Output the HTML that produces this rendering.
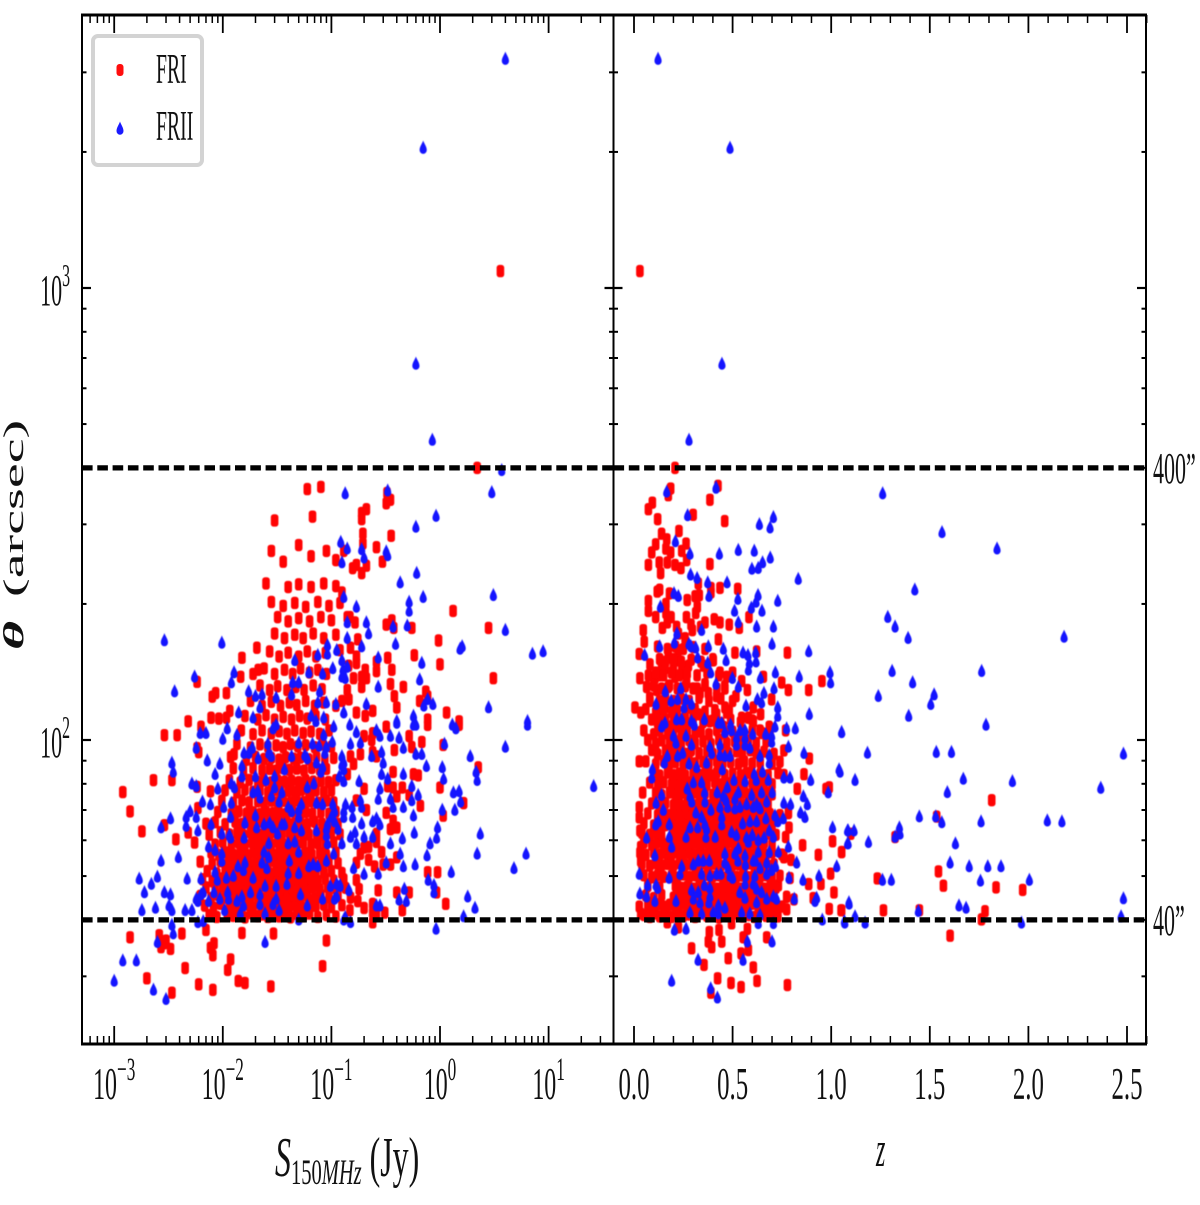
<!DOCTYPE html>
<html lang="en">
<head>
<meta charset="utf-8">
<title>Angular size versus flux and redshift for FRI and FRII sources</title>
<style>
html,body{margin:0;padding:0;background:#fff;width:1200px;height:1205px;overflow:hidden}
svg{display:block}
text{font-family:"Liberation Serif",serif;fill:#111}
</style>
</head>
<body>
<svg id="chart" xmlns="http://www.w3.org/2000/svg" width="1200" height="1205" viewBox="0 0 1200 1205">
<g id="marks" style="filter:blur(.4px)"></g>
<g id="guides"></g>
<g id="axes"></g>
<g id="labels"></g>

<text transform="translate(23,650) rotate(-90) scale(2,1)" font-size="28"><tspan font-weight="bold" font-style="italic">θ</tspan><tspan dx="5"> (arcsec)</tspan></text>
<text transform="translate(275,1176) scale(.57,1)" font-size="56"><tspan font-style="italic">S</tspan><tspan font-size="36" dy="8">150</tspan><tspan font-size="36" font-style="italic">MHz</tspan><tspan dy="-8"> (Jy)</tspan></text>
<text transform="translate(876,1166) scale(.48,1)" font-size="50" font-style="italic">z</text>
<text transform="translate(1153,483) scale(.5,1)" font-size="44">400”</text>
<text transform="translate(1153,935) scale(.5,1)" font-size="44">40”</text>

<g>
<rect x="93" y="36" width="109" height="129" rx="5" fill="#fff" stroke="#d3d3d3" stroke-width="4"/>
<rect x="116.5" y="64" width="7" height="12" rx="3" fill="#ff0d0d"/>
<path transform="translate(120,129)" d="M0,-7.5C.9,-4.5 3.5,-1.5 3.5,2A3.5,3.7 0 0 1 -3.5,2C-3.5,-1.5 -.9,-4.5 0,-7.5Z" fill="#1a1aff"/>
<text transform="translate(156,83) scale(.47,1)" font-size="42">FRI</text>
<text transform="translate(156,140) scale(.47,1)" font-size="42">FRII</text>
</g>
</svg>

<script>
// Left panel: flat pairs of flux S150MHz (Jy), angular size (arcsec)
const friFluxTheta = [
.0014,36.6,.002,29.7,.0026,37,.003,36,.0029,35.5,.0027,34.8,.0033,34.5,.0034,27.6,.0045,31.3,.006,28.8,.0081,28,.0111,31,.0118,32.7,.0077,34.7,.0083,35.5,.0081,33.4,.0042,37.3,.0139,29.3,.016,29,.0277,28.5,.09,36,.083,31.6,.0293,37.3,.015,37.4,.007,38,
.0012,76.7,.0014,69.5,.0018,62.8,.0023,81.5,.0029,102.5,.0038,102.5,.0048,110,.0034,81.5,.006,94,.0058,96,.0058,134.5,.0063,107,.0029,64.8,.0037,60.3,.0058,78.8,.0077,77,.0059,70.7,.007,65.3,.008,124.7,.0086,127,.0078,112,.0092,111.5,.0108,127,.0108,112,.0116,116,.015,152,.0146,138,.019,140,.0212,143,.0206,160,.0127,93,
3.6,1090,2.2,400,.21,324,.19,308,.195,286,.355,283,.195,272,.26,267,.13,262,.295,248,.21,243,.17,244,.157,240,.19,234,.32,334,.35,340,.325,352,.125,212,.148,187,.14,187,.165,182,.32,180,.36,184,.375,177,.55,177,1.32,193,2.8,177,.97,166,.175,167,.15,160,.58,154,1,147,.33,152,.36,143,.26,149,.26,142,.17,153,.17,148,.144,146,.205,143,.16,137,.19,138,.21,137,.19,131,.35,133,.46,131,3.1,137,.74,128,.77,125,.65,122,.38,125,.4,118,.24,116,.14,129,.125,122,.145,123,.17,115,.205,113,1.15,115,.77,111,1.5,110,.12,158,
.77,108,1.5,108,.32,107,.24,103.5,.52,102,.2,102,.235,100,.68,99,1.07,97.5,.38,95,.55,96.5,.185,93,.26,92,.24,94,.15,92,.16,88.5,.14,84,2.25,87,.37,85,.57,84,.63,83.5,.33,79,.37,78.5,.45,78.5,1,78.5,.2,78,.4,75,.52,75.5,.17,73.5,.66,71.5,1.65,72.5,.21,70,.32,69,1.07,68,.37,66.3,.37,64,.35,63.5,.4,64,.26,62,.26,59.5,.22,58,.2,57.8,.185,56,.29,56.5,.4,55,.22,54.3,.25,52.5,.17,53.5,.35,53,.3,53,.77,51,.95,51,.17,49,.18,46.8,.27,46.5,.4,46,.52,46,.93,46,1.13,43.4,.45,42,.175,44,.2,42.5,.148,42,.24,43.4,.24,41.5,.31,41.5,.26,41,.24,39.5,
.03,306,.06,359,.08,363,.067,312,.19,318,.028,262,.036,248,.05,270,.065,255,.09,262,.11,250,
.0075,41,.0088,40.6,.011,41.3,.0125,40.8,.014,41.2,.016,40.5,.018,41.4,.021,40.8,.023,41.1,.026,40.6,.029,41.3,.033,40.7,.037,41,.042,40.5,.048,41.2,.055,40.8,.063,41.3,.075,40.6,.09,41,.11,40.7,
.0068,43,.0082,42.6,.0095,43.4,.0115,42.8,.013,43.3,.015,42.7,.017,43.2,.019,42.6,.022,43.4,.025,42.9,.028,43.2,.032,42.7,.036,43.3,.041,42.8,.047,43.1,.054,42.6,.062,43.4,.072,42.9,.085,43.2,.1,42.7,.125,43.1,
.0062,45.2,.0078,44.7,.009,45.4,.0105,44.8,.012,45.3,.0138,44.9,.016,45.5,.018,44.7,.021,45.1,.024,44.6,.027,45.4,.03,44.9,.035,45.2,.039,44.7,.045,45.3,.052,44.8,.06,45.2,.07,44.6,.08,45.4,.095,44.9,.115,45.2,.15,44.8,
.007,47.2,.0085,46.8,.01,47.4,.0115,46.9,.013,47.3,.015,46.7,.0175,47.2,.02,46.8,.023,47.5,.026,46.9,.03,47.3,.034,46.7,.038,47.1,.044,46.8,.05,47.4,.058,46.9,.067,47.2,.078,46.7,.092,47.3,.11,46.9,.135,47.1,
.0065,49.2,.008,48.7,.0095,49.4,.011,48.9,.0125,49.3,.0145,48.8,.0165,49.1,.019,48.7,.022,49.5,.025,49,.028,49.3,.032,48.8,.037,49.2,.042,48.7,.048,49.4,.056,48.9,.065,49.2,.075,48.8,.088,49.3,.105,48.9,.13,49.2,
.0072,51.3,.0088,50.7,.0105,51.5,.012,50.9,.014,51.2,.016,50.8,.0185,51.4,.021,50.9,.024,51.2,.027,50.7,.031,51.5,.035,51,.04,51.3,.046,50.8,.053,51.2,.062,50.7,.072,51.4,.085,50.9,.1,51.3,.125,50.8,
.0062,53.8,.008,53.2,.0095,53.9,.0112,53.3,.013,53.7,.015,53.1,.0172,53.8,.02,53.3,.023,53.6,.026,53.1,.03,53.9,.034,53.4,.039,53.7,.044,53.2,.05,53.8,.058,53.3,.068,53.6,.08,53.1,.095,53.8,.115,53.4,
.0078,56.3,.0092,55.7,.0108,56.4,.0125,55.8,.0145,56.2,.0168,55.6,.019,56.4,.022,55.9,.025,56.2,.029,55.7,.033,56.5,.038,55.9,.043,56.2,.049,55.7,.057,56.3,.066,55.8,.078,56.1,.09,55.7,.11,56.4,
.0055,59.3,.0085,58.7,.01,59.4,.012,58.8,.014,59.2,.016,58.6,.0185,59.4,.021,58.9,.024,59.2,.028,58.7,.032,59.5,.036,58.9,.042,59.2,.048,58.7,.055,59.3,.065,58.8,.075,59.1,.088,58.7,.105,59.4,
.0048,62.4,.0075,61.7,.0095,62.5,.0115,61.8,.0135,62.2,.0155,61.6,.018,62.4,.021,61.9,.024,62.2,.027,61.7,.031,62.5,.035,61.9,.041,62.2,.046,61.7,.053,62.3,.062,61.8,.073,62.1,.085,61.7,.1,62.4,.12,61.9,
.0085,65.8,.0105,65.1,.013,65.9,.015,65.2,.0175,65.7,.02,65.1,.023,65.9,.026,65.3,.03,65.6,.034,65.1,.039,65.8,.045,65.3,.052,65.7,.06,65.1,.07,65.9,.082,65.3,.097,65.6,.115,65.2,
.009,69.3,.012,68.6,.014,69.5,.0165,68.8,.019,69.2,.022,68.6,.025,69.4,.029,68.9,.033,69.2,.038,68.6,.044,69.5,.05,68.8,.058,69.3,.067,68.7,.08,69.2,.095,68.7,.11,69.4,
.0098,73.4,.0125,72.6,.015,73.5,.0175,72.8,.021,73.2,.024,72.6,.028,73.4,.032,72.8,.036,73.3,.042,72.7,.048,73.5,.056,72.9,.065,73.2,.076,72.6,.09,73.4,.105,72.8,
.0105,77.4,.0135,76.6,.016,77.6,.019,76.8,.022,77.3,.026,76.6,.03,77.5,.034,76.9,.04,77.2,.046,76.7,.053,77.5,.062,76.9,.072,77.3,.085,76.7,.1,77.4,
.0115,81.5,.0145,80.6,.0175,81.6,.021,80.8,.024,81.3,.028,80.6,.032,81.5,.037,80.9,.043,81.3,.05,80.7,.058,81.6,.068,80.9,.08,81.2,.094,80.7,.11,81.5,
.0125,86.6,.0155,85.5,.019,86.7,.023,85.8,.027,86.3,.031,85.6,.036,86.6,.041,85.9,.048,86.4,.056,85.6,.066,86.7,.078,85.9,.09,86.3,
.0118,91.7,.0165,90.4,.02,91.8,.024,90.8,.028,91.3,.033,90.5,.038,91.6,.045,90.9,.052,91.4,.062,90.6,.073,91.7,.087,90.8,.105,91.3,
.0135,98,.018,96.3,.022,97.8,.026,96.6,.031,97.3,.036,96.4,.042,97.9,.049,96.8,.058,97.4,.07,96.4,.083,97.8,.1,96.7,
.0148,105,.019,103,.023,105,.028,103.4,.033,104.5,.039,103.2,.046,105,.055,103.6,.065,104.4,.078,103.2,.095,105,
.016,113,.021,111,.025,113.5,.03,111,.036,112.5,.043,111,.051,113,.06,111.5,.072,113,.088,111,
.018,122,.023,119,.028,121.5,.034,119,.041,121,.048,119.5,.058,122,.07,119,.085,121,.11,119,
.022,132,.027,129,.032,131.5,.039,129,.047,131,.056,129,.068,132,.082,129.5,
.024,144,.03,140,.037,143,.044,140,.052,144,.063,141,.075,143,.09,140,
.027,157,.033,153,.04,156,.05,153,.06,157,.072,153,.088,156,
.03,172,.037,168,.046,171,.055,168,.068,172,.085,168,.11,171,
.032,187,.04,183,.05,186,.063,183,.08,187,.1,184,
.028,202,.036,198,.046,201,.058,197,.075,202,.095,198,.12,201,
.025,222,.04,218,.05,221,.065,218,.085,222,.11,219
];
const friiFluxTheta = [
4,3210,.7,2040,.6,679,.85,461,3.7,395,.134,351,.33,356,3,353,.92,313,.6,296,.122,274,.14,265,.19,264,.2,253,.32,261,.33,256,.125,247,.61,234,.43,223,3.1,209,.52,202,.7,207,.52,193,.13,207,.17,197,.14,182,.21,182,.22,172,.37,178,.5,179,4,175,.14,168,.19,161,.39,163,1.6,161,1.53,159,7.1,155,8.9,157,.27,152,.68,148,.65,136,.27,131,.21,120,.77,123,.71,119,.86,120,2.8,118,.57,113,.128,143,.125,138,.134,137,.13,115,.4,110,6.4,110,
6.4,108,1.3,108,1.4,106,.4,109,.57,108,.6,108,.148,108,.17,104,.26,105,.28,102,.35,102,.42,101,.15,98,.185,98.5,.46,96,.6,93,.68,93,1.1,98,4,96.5,1.9,92,.75,87.5,1.05,87,.29,94,.235,92,.3,89,.13,89,.13,86,.29,84,.33,82,.46,84,.18,81,.13,81,2.15,85,2.2,81.5,1.08,82,26,79,.55,79,.28,78,1.33,76.5,.63,75.5,1.5,77,1.55,73,.27,74,.35,74,.185,73.5,.55,73.5,.46,71,.37,71,.135,72,.155,71,.19,71,1.05,70,1.37,70,.57,68,.157,67.5,.13,67.5,.24,66,.26,67,.28,65,.19,65.3,.95,64,.58,62.3,2.35,62,.165,62.5,.15,61,.2,61,.24,61,.45,60.5,.93,60.7,.81,59,.125,59,.17,59,.35,59,.43,56,6.2,56,2.2,56,.76,55.5,.32,53.5,.59,53,.46,52.5,4.8,52,1.27,51,.16,52,.2,50.5,.27,50.5,.78,49,.88,47.7,.12,47.7,.145,46.5,.47,46.8,.88,46,1.8,45,.42,44.3,.49,44,2.1,42.5,.26,43,.28,43,1.65,40.7,.13,40,.15,39.5,.92,38.2,
.0055,138,.0036,128,.0098,164,.0029,166,.0127,141,.012,134,.0173,128,.02,125,.023,126,.031,124,.043,126,.044,134,.05,134,.046,150,.062,141,.083,140,.103,144,.092,162,.092,155,.112,158,.075,154,.13,140,.14,145,.125,150,.078,128,.075,121,.09,121,.11,120,.022,118,.014,115,.019,112,.065,113,.072,110,.085,112,.13,115,.105,107,.011,106,.0062,103.5,.007,103.5,.01,100.5,.0135,102.5,.029,106,.031,108,.05,98.5,.067,98,.077,97,.085,102.5,.09,96.5,.087,93.5,.102,99,.0057,96,.0034,89,.0035,85,.0072,90,.0094,88.5,.015,87.5,.0157,93.5,.0174,93.5,.0187,96,.0212,91,.026,98,.0265,93.5,.028,92,.043,92,.057,92.5,.06,91,.073,89,.083,87,.08,85,.125,92,.125,88,.128,89,.0052,80,.0057,79,.0085,84,.0128,78.5,.012,80,.015,83,.02,83,.025,81.5,.03,83,.037,86,.06,78.5,.069,80,.118,83,.03,78.5,.009,78,.0065,73,.0077,72,.0102,71,.012,72.5,.019,76.5,.021,77,.022,74.5,.028,75,.033,73,.035,76.5,.04,71,.043,69.5,.05,70,.05,67.5,.053,72,.073,72.5,.083,72,.103,72,.107,69.5,.13,69.5,.005,69.5,.0033,67,.0046,67.5,.0046,64.5,.0057,67.5,.0059,63,.0078,65,.0027,64,.0118,67.5,.016,65.5,.02,68,.024,65,.027,65.5,.029,64,.035,65,.037,65,.046,64,.053,63,.073,63,.092,65,.09,63.5,.1,67.5,.115,63.5,.107,66,.0098,62,.0115,61.5,.032,62,.0205,64,
.0017,49.3,.0022,48,.0025,49.8,.0019,46,.0029,46,.0033,45.5,.0018,42,.0024,42.5,.0032,43,.0034,42,.0027,54,.0039,55,.0045,42,.0052,42,.0034,39,.0035,37.3,.0025,35.7,.0012,32.5,.0016,32.5,.001,29.3,.0023,28,.003,26.7,.0245,35.7,.0059,39.5,.0066,39.7,.0059,44,.0057,44.5,.0066,46,.0063,45.5,.0074,44,.0085,51,.0063,49.3,.0047,49.3,.0083,46,.0094,44.5,.0089,49,.0108,49.5,.0098,56,.0098,54,.0085,57,.0074,58,.0118,60.7,.0157,60.7,.0104,42,.0111,46,.0113,44.5,.0125,50,.0138,52.5,.016,53.5,.0155,51.5,.0135,44,.015,45,.0155,43,.018,46,.0145,41.3,.019,49.5,.023,53.5,.0255,52,.024,56.5,.0265,55,.0265,59,.0245,47.5,.022,45.5,.022,43.3,.0245,41.3,.029,43.3,.031,47.5,.031,44.5,.033,42,.039,48,.04,50.7,.041,54,.04,59,.05,56.5,.05,50.7,.052,45.5,.046,59.5,.062,52.5,.068,53,.075,52.5,.06,43,.083,44.5,.092,59,.09,61.5,.09,54,.105,56,.125,59,.098,47.5,.112,48,.12,47.5,.145,46.5,.107,44.5,.112,45,.05,40,.134,40.5
];
// Right panel: flat pairs of redshift z, angular size (arcsec)
const friRedshiftTheta = [
.03,1090,.208,400,.186,360,.174,348,.093,335,.073,324,.12,308,.228,290,.14,286,.166,278,.11,271,.09,260,.162,265,.186,260,.242,262,.264,272,.267,250,.169,247,.208,244,.238,240,.128,247,.073,244,.135,234,.326,222,.39,217,.39,212,.436,217,.526,216,.385,245,.3,315,.46,305,.426,365,.385,340,.13,215,.118,213,.18,211,.27,204,.31,208,.331,209,.073,203,.073,193,.162,200,.162,191,.321,197,.313,191,.11,187,.188,187,.169,182,.144,177,.266,187,.289,180,.296,175,.36,182,.338,178,.407,185,.436,182,.483,180,.534,177,.583,187,.047,175,.052,165,.027,155,.081,147,.073,139,.03,137,.064,131,.005,118,.035,115,.081,122,.106,137,.128,139,.14,147,.174,158,.174,152,.225,172,.216,178,.225,158,.225,150,.259,168,.259,141,.428,167,.512,156,.622,157,.778,156,.953,135,.783,129,.886,129,.749,134,.698,123,.656,138,.605,118,.642,114,.58,112,.546,112,.605,110,.575,129,.546,135,.517,125,.5,141,.47,138,.436,141,.461,130,.419,125,.461,118,.483,116,.419,114,.377,127,.402,150,.36,133,.352,146,.335,127,.32,130,.267,134,.276,146,.242,146,.2,146,.157,144,.208,138,.174,131,.115,129,.157,118,.123,116,.123,111,.233,107,.174,107,.3,114,.326,114,.284,118,.384,110,.453,107,.686,107,.769,105,.639,105,.69,102,
.225,38.5,.382,37.6,.431,38,.377,35.8,.394,34.8,.445,35.8,.292,34.6,.554,36.6,.575,38.2,.58,34.3,.543,33.7,.673,36.6,.478,32.9,.355,31.8,.605,31.4,.424,29.7,.492,29,.543,28.4,.624,29.3,.778,28.7,.39,27.6,.495,39.3,.169,39.5,
.889,91,.862,84,.828,78,.99,78.6,.974,78,.783,68.9,.786,64,.769,61,.855,58.5,.935,55.7,1.007,59.7,1.053,56.5,.997,50.6,.886,48,.948,48,1.014,46,.909,44.7,.99,42.3,1.053,42,.811,44.4,.796,54.3,.76,55,.791,49.5,.732,47.7,.774,42.2,.774,45,.044,76.5,.027,89.7,.027,71,.027,67.4,.03,63,.034,58,.034,54,.027,42.8,.034,41.3,
1.814,73.6,1.535,67.7,1.099,62,1.324,61,1.053,56.5,1.234,49.4,1.544,51.2,1.569,47.6,1.836,47.2,1.971,46.6,1.05,42,1.265,42,1.447,42,1.78,41.8,1.762,40.1,1.603,36.9,
.05,41,.08,40.6,.1,41.3,.13,40.7,.16,41.2,.19,40.6,.22,41.4,.25,40.8,.28,41.1,.31,40.6,.34,41.3,.37,40.8,.4,41,.43,40.5,.46,41.2,.49,40.8,.52,41.3,.55,40.7,.58,41,.61,40.6,.64,41.3,.67,40.8,.7,41.1,.73,40.7,
.07,43.2,.09,42.7,.12,43.3,.15,42.8,.18,43.2,.21,42.6,.24,43.4,.27,42.8,.3,43.1,.33,42.7,.36,43.3,.39,42.9,.42,43.2,.45,42.6,.48,43.3,.51,42.8,.54,43.1,.57,42.7,.6,43.4,.63,42.8,.66,43.2,.69,42.7,.72,43.1,.75,42.8,
.06,45.3,.1,44.7,.14,45.4,.2,44.8,.23,45.2,.26,44.7,.29,45.4,.32,44.9,.35,45.2,.38,44.7,.41,45.3,.44,44.8,.47,45.1,.5,44.7,.53,45.4,.56,44.9,.59,45.2,.62,44.7,.65,45.3,.68,44.8,.71,45.1,
.07,47.5,.13,47.2,.21,47.6,.24,47.1,.27,47.4,.3,46.9,.33,47.6,.36,47.1,.39,47.4,.42,46.9,.45,47.5,.48,47.1,.51,47.3,.54,46.9,.57,47.6,.6,47.1,.63,47.4,.66,46.9,.69,47.5,.72,47.1,
.05,50.2,.09,49.7,.12,50.3,.15,49.8,.19,50.1,.22,49.6,.25,50.4,.28,49.8,.31,50.2,.34,49.7,.37,50.3,.4,49.9,.43,50.2,.46,49.6,.49,50.3,.52,49.8,.55,50.1,.58,49.7,.61,50.4,.64,49.8,.67,50.2,.7,49.7,.74,50.1,
.04,53.2,.08,52.7,.11,53.4,.14,52.8,.17,53.2,.2,52.6,.23,53.4,.26,52.9,.29,53.1,.32,52.7,.35,53.3,.38,52.8,.41,53.2,.44,52.6,.47,53.4,.5,52.9,.53,53.1,.56,52.7,.59,53.3,.62,52.8,.65,53.2,.68,52.7,.71,53.1,
.03,56.3,.06,55.7,.1,56.4,.13,55.8,.16,56.2,.19,55.6,.22,56.4,.25,55.9,.28,56.2,.31,55.7,.34,56.3,.37,55.8,.4,56.1,.43,55.7,.46,56.4,.49,55.8,.52,56.2,.55,55.7,.58,56.3,.61,55.8,.64,56.1,.67,55.7,.7,56.4,.75,55.8,
.05,59.3,.09,58.7,.12,59.4,.15,58.8,.18,59.2,.21,58.6,.24,59.4,.27,58.9,.3,59.2,.33,58.7,.36,59.3,.39,58.8,.42,59.2,.45,58.6,.48,59.4,.51,58.9,.54,59.1,.57,58.7,.6,59.3,.63,58.8,.66,59.2,.7,58.7,
.04,62.3,.08,61.7,.11,62.4,.14,61.8,.2,62.2,.23,61.6,.26,62.4,.29,61.9,.32,62.2,.35,61.7,.38,62.3,.41,61.8,.44,62.1,.47,61.6,.5,62.4,.53,61.9,.56,62.2,.59,61.7,.62,62.3,.65,61.8,.68,62.1,.72,61.7,
.05,65.4,.1,64.7,.13,65.5,.16,64.8,.19,65.2,.22,64.6,.25,65.4,.28,64.9,.31,65.2,.34,64.7,.37,65.4,.4,64.8,.43,65.1,.46,64.6,.49,65.5,.52,64.9,.55,65.2,.58,64.7,.61,65.3,.64,64.8,.67,65.1,.7,64.7,
.07,68.8,.12,68.2,.15,68.9,.18,68.2,.21,68.6,.24,68.1,.27,68.9,.3,68.3,.33,68.7,.36,68.1,.39,68.9,.42,68.3,.45,68.6,.48,68.1,.51,68.9,.54,68.3,.57,68.6,.6,68.1,.63,68.8,.66,68.3,.69,68.6,.74,68.2,
.09,72.4,.13,71.6,.16,72.5,.2,71.8,.23,72.2,.26,71.6,.29,72.4,.32,71.8,.35,72.3,.38,71.7,.41,72.5,.44,71.9,.47,72.2,.5,71.6,.53,72.4,.56,71.8,.59,72.2,.62,71.7,.65,72.5,.68,71.8,
.11,76.4,.14,75.6,.18,76.5,.21,75.8,.24,76.3,.27,75.6,.3,76.5,.33,75.9,.36,76.2,.4,75.7,.43,76.5,.46,75.9,.49,76.2,.52,75.6,.55,76.4,.58,75.8,.61,76.2,.64,75.7,.67,76.5,.7,75.8,
.08,80.5,.12,79.6,.15,80.6,.19,79.8,.22,80.3,.25,79.6,.28,80.5,.31,79.9,.34,80.2,.37,79.7,.41,80.5,.44,79.8,.47,80.3,.5,79.6,.53,80.5,.56,79.9,.6,80.2,.63,79.7,.66,80.5,.7,79.8,
.1,84.6,.13,83.5,.17,84.7,.2,83.7,.23,84.3,.26,83.5,.3,84.6,.33,83.8,.36,84.3,.39,83.6,.42,84.7,.46,83.8,.5,84.2,.54,83.6,.57,84.6,.6,83.8,.64,84.3,.68,83.6,.73,84.5,.76,83.7,
.06,89.7,.11,88.4,.15,89.8,.18,88.6,.21,89.3,.25,88.5,.28,89.7,.31,88.8,.35,89.4,.38,88.5,.42,89.7,.45,88.8,.49,89.3,.53,88.5,.56,89.7,.6,88.8,.64,89.2,.7,88.6,.74,89.5,
.09,95,.12,93,.16,94.8,.19,93.3,.22,94.5,.26,93.2,.29,94.8,.33,93.5,.37,94.4,.4,93.2,.44,95,.48,93.6,.52,94.4,.55,93.2,.59,94.9,.62,93.6,.66,94.3,.71,93.2,.76,94.8,
.07,100,.11,98,.14,99.8,.18,98.2,.21,99.4,.24,98,.28,99.8,.31,98.4,.35,99.3,.39,98,.43,100,.47,98.5,.51,99.3,.54,98,.58,99.8,.62,98.5,.67,99.3,
.05,105,.1,103,.13,105,.17,103.3,.2,104.4,.24,103,.27,105,.31,103.5,.34,104.3,.38,103,.42,105,.46,103.5,.5,104.4,.55,103,.6,105,.65,103.6,
.09,111,.12,109,.16,111,.2,109.4,.23,110.6,.27,109,.3,111,.35,109.5,.4,110.5,.44,109,.49,111,.54,109.5,.6,110.5,
.06,117,.11,115,.15,117,.19,115.3,.22,116.5,.26,115,.31,117,.36,115.5,.41,116.5,.47,115,
.08,124,.13,122,.16,124,.2,122,.24,123.5,.28,122,.33,124,.38,122,.44,123.5,.5,122,
.1,132,.14,130,.18,132,.22,130,.26,131.5,.3,130,.36,132,.42,130,.46,131.5,
.11,141,.15,139,.19,141,.23,139,.27,140.5,.32,139,.37,141,.43,139,
.13,151,.16,149,.2,151,.24,149,.29,150.5,.34,149,.4,151,
.12,161,.17,159,.21,161,.25,159,.3,160.5,.36,159
];
const friiRedshiftTheta = [
.122,3210,.487,2040,.446,679,.279,461,.416,361,
1.121,81.5,1.045,85,1.67,82,1.919,81,1.589,76.6,2.367,78.3,1.447,67.7,1.53,67.7,1.561,65.7,1.76,66,2.096,66.3,2.17,66,1.346,64,1.349,62,1.324,61,1.086,63,1.116,63,1.086,59,1.189,59.4,1.63,59,1.603,53.5,1.7,52.5,1.794,52.5,1.861,52.5,1.26,49,1.305,49,1.757,48.8,2.005,49,2.482,44.6,1.091,43.4,1.648,43,1.684,42.5,1.442,41.8,1.121,40.7,2.47,40.7,1.069,39.4,1.172,39.4,1.965,39.4,
1.261,351,1.562,288,1.841,265,1.424,215,1.287,187,1.324,178,1.39,168,2.181,169,1.309,142,1.763,142,1.413,134,1.239,125,1.522,126,1.505,120,1.393,113,1.785,108,1.053,104,1.184,93.6,1.533,94,1.61,94,2.482,93.2,
.166,354,.416,362,.272,314,.707,311,.636,300,.69,295,.21,275,.284,258,.433,258,.529,263,.61,262,.691,253,.652,247,.598,239,.63,240,.287,232,.32,228,.374,223,.472,223,.833,227,.203,211,.225,208,.38,208,.527,205,.629,209,.729,203,.619,202,.134,197,.595,196,.51,193,.649,193,.529,182,.622,178,.707,178,.218,172,.343,175,.13,161,.205,164,.279,163,.289,161,.313,160,.377,161,.7,163,.054,154,.323,152,.453,159,.467,150,.553,156,.578,154,.617,156,.886,157,.585,148,.619,149,.58,143,.374,148,.389,141,.717,141,.838,138,.994,141,.997,134,.499,137,.641,137,.416,133,.529,131,.659,127,.71,130,.237,130,.159,128,.626,123,.647,121,.112,120,.188,122,.221,123,.264,123,.292,120,.254,118,.568,119,.729,118,.729,113,.889,114,.216,111,.242,111,.357,111,.292,110,.157,109,.14,107,.306,108,.428,109,.445,109,.49,108,.461,104,.495,105,.538,105,.563,105,.602,103,.668,103,.698,102,.715,107,.774,106,.818,106,1.053,104,.264,102,.2,102,.563,101,.52,101,
.213,98.5,.292,97.5,.385,96.5,.436,97.5,.52,97.5,.563,97.5,.588,96,.698,99,.783,96.5,.862,93.5,1.04,86,.154,89,.169,92,.221,92,.247,93.5,.279,88.5,.318,87,.368,89,.394,93.5,.436,92.5,.461,92,.487,92,.639,92,.686,92.5,.686,89,.448,86,.652,85,.61,84,.093,86,.09,82.5,.76,82.5,.791,82.5,.896,81.5,.507,81.5,.563,81,.681,81.5,.62,81.5,.301,80.5,.343,80.5,.27,78,.284,75,.358,76.5,.422,76.5,.473,78.5,.453,75,.529,76.5,.597,75.5,.647,76.5,.701,76.5,.985,76.5,.14,75.5,.112,72.5,.293,73,.36,73,.467,73.5,.512,74,.537,71,.571,72,.622,72,.673,73,.859,75,.879,72,.794,72,.76,72.5,.436,71,.475,71,.512,70.5,.605,71,.639,70.5,.39,70,.314,69,.149,70,.845,69,.867,67.5,.123,66,.11,65,.179,65,.343,67.5,.445,67.5,.445,65,.669,67,.715,68,.729,66,.757,67,.588,66,.622,66,.551,65.3,.36,65,.368,63.5,.284,64,.323,64,1.007,64,1.083,63,.495,62.5,.52,61.5,.179,61,.191,58,.264,61,.365,61,.412,61,.064,60.7,.571,60.7,.58,59.5,.6,61.5,.63,60,.66,60.7,.707,61,.686,63,.783,58,1.083,59,.461,56,.512,56,.529,57.5,.563,55.5,.63,56.5,.605,54,.686,56.5,.732,56.5,.106,55.5,.326,54,.301,53,.351,54,.382,54,.461,53.5,.527,54,.565,53,.616,54,.639,52,.673,53.5,.825,53.5,1.028,52.5,.242,52.5,.233,50.5,.478,52,.487,50,.718,52.5,.698,51.5,.027,50.5,.178,49.5,.343,50.5,.419,50.5,.441,50.5,.385,50,.5,49.5,.566,50,.563,48,.613,50,.673,50.5,.786,49.5,.857,49,.938,50,.069,47.7,.03,45.7,.064,45,.112,47.7,.12,47,.357,47.7,.385,47,.292,46.5,.326,46,.301,44.5,.385,45,.537,46,.563,44.7,.605,48,.622,46.8,.647,46,.673,44.5,.707,45,.723,44.5,.813,44.5,.106,44,.213,44,.918,44,.926,44.7,.335,43.7,.38,43.7,.428,43,.461,42.5,.622,43.7,.546,41.5,.284,41.5,.343,41.3,.402,41.5,.428,41.3,.588,41.3,.639,41,1.09,43.7,.955,40,1.067,39.7,.707,39.3,.63,39.3,.205,38,.264,38.2,.575,35.8,.7,35.8,.325,32.6,.553,32.6,.191,29.3,.389,28.2,.423,26.9
];
// Tick values and printed labels
const decadeFluxExponents = [-3,-2,-1,0,1];
const minorFluxTicks = [6e-4,7e-4,8e-4,9e-4,2e-3,3e-3,4e-3,5e-3,6e-3,7e-3,8e-3,9e-3,.02,.03,.04,.05,.06,.07,.08,.09,.2,.3,.4,.5,.6,.7,.8,.9,2,3,4,5,6,7,8,9,20,30];
const majorThetaExponents = [2,3];
const minorThetaTicks = [30,40,50,60,70,80,90,200,300,400,500,600,700,800,900,2000,3000];
const redshiftMajor = ['0.0','0.5','1.0','1.5','2.0','2.5'];
const redshiftMinor = [.1,.2,.3,.4,.6,.7,.8,.9,1.1,1.2,1.3,1.4,1.6,1.7,1.8,1.9,2.1,2.2,2.3,2.4,2.6];
const guideThetas = [40,400];

// Axis functions
const NS = 'http://www.w3.org/2000/svg';
const PANEL = {left:82, mid:613.5, right:1146, top:15, bottom:1044};
function xFlux(s){ return 114.2 + 108.6*(Math.log10(s)+3); }
function xRedshift(z){ return 634 + 197.2*z; }
function yTheta(t){ return 740 + 452*(2-Math.log10(t)); }

const marks = document.getElementById('marks');
const axes = document.getElementById('axes');
const guides = document.getElementById('guides');
const labels = document.getElementById('labels');

function drawFri(data, xFn){
  for(let i=0;i+1<data.length;i+=2){
    const el = document.createElementNS(NS,'rect');
    
    
    el.setAttribute('x', xFn(data[i])-3.8);
    el.setAttribute('y', yTheta(data[i+1])-6.2);
    el.setAttribute('width', 7.6);
    el.setAttribute('height', 12.4);
    el.setAttribute('rx', 2.8);
    el.setAttribute('fill', '#ff0303');
    marks.appendChild(el);
  }
}
function drawFrii(data, xFn){
  for(let i=0;i+1<data.length;i+=2){
    const el = document.createElementNS(NS,'path');
    
    
    el.setAttribute('transform', 'translate('+xFn(data[i])+','+yTheta(data[i+1])+')');
    el.setAttribute('d', 'M0,-7.5C.9,-4.5 3.6,-1.5 3.6,2A3.6,3.8 0 0 1 -3.6,2C-3.6,-1.5 -.9,-4.5 0,-7.5Z');
    el.setAttribute('fill', '#1414ff');
    marks.appendChild(el);
  }
}
drawFri(friFluxTheta, xFlux);
drawFri(friRedshiftTheta, xRedshift);
drawFrii(friiFluxTheta, xFlux);
drawFrii(friiRedshiftTheta, xRedshift);

function line(parent,x1,y1,x2,y2,w,name){
  const el = document.createElementNS(NS,'line');
  
  
  el.setAttribute('x1', x1); el.setAttribute('y1', y1);
  el.setAttribute('x2', x2); el.setAttribute('y2', y2);
  el.setAttribute('stroke', '#000');
  el.setAttribute('stroke-width', w);
  parent.appendChild(el);
  return el;
}
// Guides
guideThetas.forEach(function(t){
  [[PANEL.left,PANEL.mid],[PANEL.mid,PANEL.right]].forEach(function(r){
    const g = line(guides,r[0],yTheta(t),r[1],yTheta(t),5.2,'size-limit-line');
    g.setAttribute('stroke-dasharray','10.6 4.7');
  });
});
// Frame
line(axes,PANEL.left-1,PANEL.top,PANEL.right+1,PANEL.top,3,'top-spine');
line(axes,PANEL.left-1,PANEL.bottom,PANEL.right+1,PANEL.bottom,3,'bottom-spine');
line(axes,PANEL.left,PANEL.top,PANEL.left,PANEL.bottom,2,'left-spine');
line(axes,PANEL.mid,PANEL.top,PANEL.mid,PANEL.bottom,2,'middle-spine');
line(axes,PANEL.right,PANEL.top,PANEL.right,PANEL.bottom,2,'right-spine');

function xTick(x,len,w){
  line(axes,x,PANEL.top,x,PANEL.top+len,w,'x-tick-top');
  line(axes,x,PANEL.bottom,x,PANEL.bottom-len,w,'x-tick-bottom');
}
decadeFluxExponents.forEach(function(e){ xTick(xFlux(Math.pow(10,e)),18,1.8); });
minorFluxTicks.forEach(function(s){ xTick(xFlux(s),8,1.5); });
redshiftMajor.forEach(function(l){ xTick(xRedshift(parseFloat(l)),18,1.8); });
redshiftMinor.forEach(function(z){ xTick(xRedshift(z),8,1.5); });

function yTick(t,len,w){
  const y = yTheta(t);
  line(axes,PANEL.left,y,PANEL.left+len,y,w,'y-tick-left');
  line(axes,PANEL.mid-len,y,PANEL.mid+len,y,w,'y-tick-middle');
  line(axes,PANEL.right-len,y,PANEL.right,y,w,'y-tick-right');
}
majorThetaExponents.forEach(function(e){ yTick(Math.pow(10,e),9,2.2); });
minorThetaTicks.forEach(function(t){ yTick(t,4.5,2); });

// Tick labels
function powerLabel(cx,baseline,exp,anchor,name,size,sx){
  const t = document.createElementNS(NS,'text');
  
  
  t.setAttribute('transform','translate('+cx+','+baseline+') scale('+sx+',1)');
  t.setAttribute('font-size',size);
  t.setAttribute('text-anchor',anchor);
  const base = document.createElementNS(NS,'tspan');
  base.textContent = '10';
  const sup = document.createElementNS(NS,'tspan');
  sup.setAttribute('font-size',size*.72);
  sup.setAttribute('dy',-19);
  sup.textContent = String(exp).replace('-','−');
  t.appendChild(base); t.appendChild(sup);
  labels.appendChild(t);
}
decadeFluxExponents.forEach(function(e){
  powerLabel(xFlux(Math.pow(10,e)),1099,e,'middle','flux-tick-label',46,.52);
});
majorThetaExponents.forEach(function(e){
  powerLabel(70,yTheta(Math.pow(10,e))+17,e,'end','theta-tick-label',44,.5);
});
redshiftMajor.forEach(function(l){
  const t = document.createElementNS(NS,'text');
  
  
  t.setAttribute('transform','translate('+xRedshift(parseFloat(l))+',1099) scale(.54,1)');
  t.setAttribute('font-size',46);
  t.setAttribute('text-anchor','middle');
  t.textContent = l;
  labels.appendChild(t);
});
</script>
</body>
</html>
